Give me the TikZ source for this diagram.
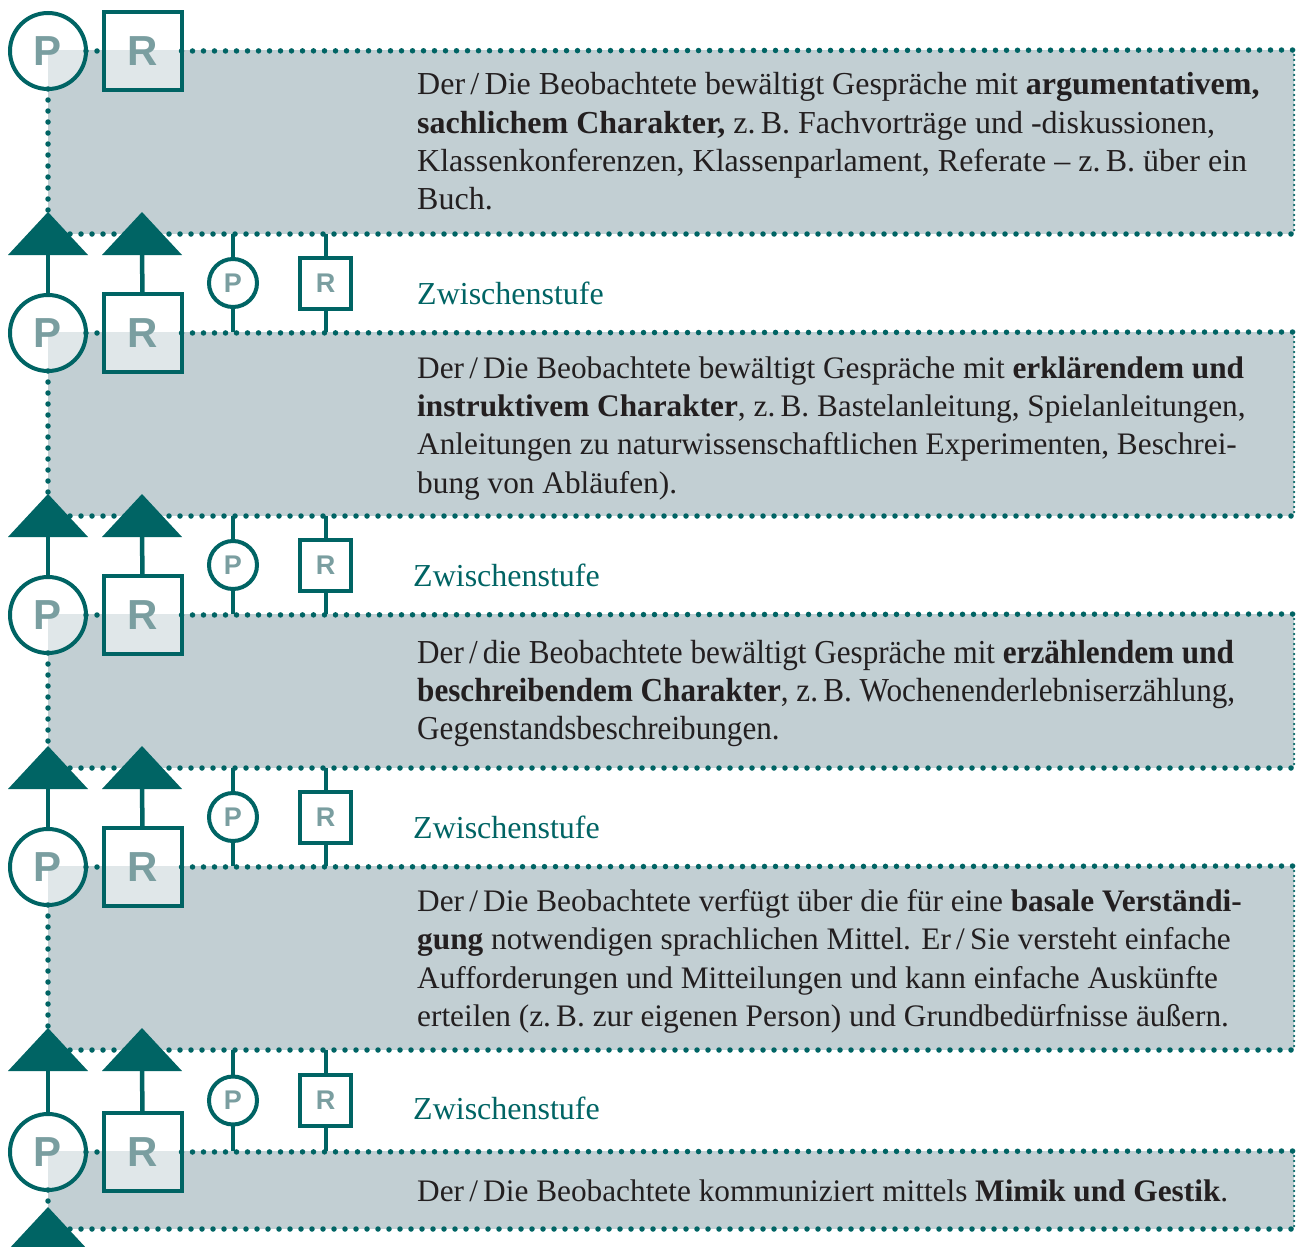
\documentclass[tikz,border=0pt]{standalone}
\usepackage{fontspec}
\usepackage{graphicx}
\setmainfont{Liberation Serif}
\setsansfont{Liberation Sans}
\definecolor{teal1}{RGB}{0,100,100}
\definecolor{bandgray}{RGB}{194,207,211}
\definecolor{lettercol}{RGB}{122,158,160}
\definecolor{txt}{RGB}{35,31,32}
\newcommand{\condline}[1]{\scalebox{0.93}[1]{\fontsize{33.5}{38}\selectfont #1}}
\tikzset{
  icon/.style={draw=teal1, line width=4pt, fill=white, fill opacity=0.5, text opacity=1,
    inner sep=0pt, outer sep=0pt, text=lettercol, font=\sffamily\bfseries\fontsize{42}{42}\selectfont},
  bigP/.style={icon, circle, minimum size=76pt},
  bigR/.style={icon, rectangle, minimum size=78pt},
  smallicon/.style={icon, fill opacity=1, font=\sffamily\bfseries\fontsize{27}{27}\selectfont},
  smallP/.style={smallicon, circle, minimum size=48pt},
  smallR/.style={smallicon, rectangle, minimum size=51pt},
  dots/.style={draw=teal1, line width=5.5pt, line cap=round, dash pattern=on 0pt off 11pt},
  densedots/.style={draw=teal1, line width=2.5pt, line cap=round, dash pattern=on 0pt off 5pt},
  stem/.style={draw=teal1, line width=4.5pt},
  band/.style={fill=bandgray},
  arrowhead/.style={fill=teal1},
  body/.style={anchor=base west, inner sep=0pt, text=txt, font=\fontsize{31.3}{38}\selectfont},
  bodyA/.style={body, font=\fontsize{32}{38}\selectfont},
  zw/.style={anchor=base west, inner sep=0pt, text=teal1, font=\fontsize{32}{38}\selectfont},
}
\begin{document}
\begin{tikzpicture}[x=1pt,y=-1pt]
\useasboundingbox[fill=white] (0,0) rectangle (1296,1247);

% bands
\foreach \i/\t/\b in {1/50/234, 2/332/516, 3/614/768, 4/866/1050, 5/1151/1229} {
  \fill[band] (48,\t) rectangle (1294,\b);
  \node[bigP] (P\i) at (48,\t+1) {P};
  \node[bigR] (R\i) at (142.5,\t+1) {R};
  \coordinate (TR\i) at (1294,\t);
  \coordinate (BR\i) at (1294,\b);
  \coordinate (BL\i) at (48,\b);
  \coordinate (apex\i) at (48,\b-22);
  \draw[dots] (P\i.east) -- (R\i.west);
  \draw[dots] (R\i.east) -- (TR\i);
  \draw[dots] (P\i.south) -- (apex\i);
  \draw[dots] (BL\i) -- (BR\i);
  \draw[densedots] (TR\i) -- (BR\i);
  \fill[arrowhead] (apex\i) -- (8,\b+21) -- (88,\b+21) -- cycle;
}
% R arrowheads (not under the last band)
\foreach \b in {234,516,768,1050} {
  \fill[arrowhead] (142,\b-22) -- (102,\b+21) -- (182,\b+21) -- cycle;
}

% intermediate steps
\foreach \i/\j/\b/\tn in {1/2/234/332, 2/3/516/614, 3/4/768/866, 4/5/1050/1151} {
  \coordinate (pb\i) at (48,\b+20);
  \coordinate (rb\i) at (142,\b+20);
  \draw[stem] (pb\i) -- (P\j.north);
  \draw[stem] (rb\i) -- (R\j.north);
  \coordinate (ps\i) at (233,\b);
  \coordinate (pe\i) at (233,\tn);
  \coordinate (rs\i) at (325.5,\b);
  \coordinate (re\i) at (325.5,\tn);
  \node[smallP] (sp\i) at (233,{(\b+\tn)/2}) {P};
  \node[smallR] (sr\i) at (325.5,{(\b+\tn)/2}) {R};
  \draw[stem, line width=4pt] (ps\i) -- (sp\i.north);
  \draw[stem, line width=4pt] (sp\i.south) -- (pe\i);
  \draw[stem, line width=4pt] (rs\i) -- (sr\i.north);
  \draw[stem, line width=4pt] (sr\i.south) -- (re\i);
}

\node[zw] (z1) at (417,304) {Zwischenstufe};
\node[zw] (z2) at (413,586) {Zwischenstufe};
\node[zw] (z3) at (413,838) {Zwischenstufe};
\node[zw] (z4) at (413,1119) {Zwischenstufe};

% band 1
\node[bodyA] (t1a) at (417,95) {Der\,/\,Die Beobachtete bewältigt Gespräche mit \textbf{argumentativem,}};
\node[bodyA] (t1b) at (417,133) {\textbf{sachlichem Charakter,} z.\,B. Fachvorträge und -diskussionen,};
\node[bodyA] (t1c) at (417,171) {Klassenkonferenzen, Klassenparlament, Referate – z.\,B. über ein};
\node[bodyA] (t1d) at (417,209) {Buch.};
% band 2
\node[body] (t2a) at (417,378) {Der\,/\,Die Beobachtete bewältigt Gespräche mit \textbf{erklärendem und}};
\node[body] (t2b) at (417,416) {\textbf{instruktivem Charakter}, z.\,B. Bastelanleitung, Spielanleitungen,};
\node[body] (t2c) at (417,454.5) {Anleitungen zu naturwissenschaftlichen Experimenten, Beschrei-};
\node[body] (t2d) at (417,493) {bung von Abläufen).};
% band 3
\node[body] (t3a) at (417,663) {\condline{Der\,/\,die Beobachtete bewältigt Gespräche mit \textbf{erzählendem und}}};
\node[body] (t3b) at (417,701) {\condline{\textbf{beschreibendem Charakter}, z.\,B. Wochenenderlebniserzählung,}};
\node[body] (t3c) at (417,739) {\condline{Gegenstandsbeschreibungen.}};
% band 4
\node[body] (t4a) at (417,911) {Der\,/\,Die Beobachtete verfügt über die für eine \textbf{basale Verständi-}};
\node[body] (t4b) at (417,949) {\textbf{gung} notwendigen sprachlichen Mittel. Er\,/\,Sie versteht einfache};
\node[body] (t4c) at (417,988) {Aufforderungen und Mitteilungen und kann einfache Auskünfte};
\node[body] (t4d) at (417,1026) {erteilen (z.\,B. zur eigenen Person) und Grundbedürfnisse äußern.};
% band 5
\node[body] (t5a) at (417,1201) {Der\,/\,Die Beobachtete kommuniziert mittels \textbf{Mimik und Gestik}.};
\end{tikzpicture}
\end{document}
